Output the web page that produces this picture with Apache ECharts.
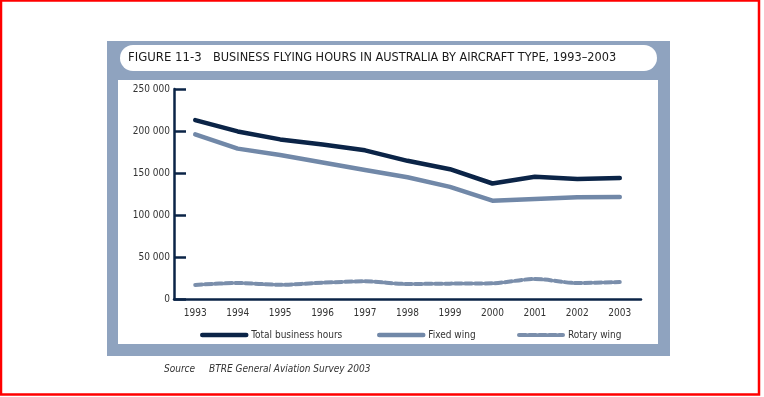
<!DOCTYPE html>
<html><head><meta charset="utf-8">
<script src="https://cdn.jsdelivr.net/npm/echarts@6/dist/echarts.min.js"></script>
<style>html,body{margin:0;padding:0;background:#fff}#c{width:764px;height:397px}</style>
</head><body><div id="c"></div>
<script>
const years = ['1993','1994','1995','1996','1997','1998','1999','2000','2001','2002','2003'];
const totalHours = [213000,199500,190000,184000,177000,164500,154500,137500,145500,143000,144000];
const fixedWing  = [196000,179000,171500,162500,153500,145000,133500,117000,119000,121000,121500];
const rotaryWing = [16700,19000,17000,19400,21000,17900,18300,18700,23800,19000,20200];
const seriesNames = ['Total business hours','Fixed wing','Rotary wing'];
const figureLabel = 'FIGURE 11-3';
const figureTitle = 'BUSINESS FLYING HOURS IN AUSTRALIA BY AIRCRAFT TYPE, 1993\u20132003';
const sourceLabel = 'Source';
const sourceText = 'BTRE General Aviation Survey 2003';

const FONT = "'Liberation Sans Narrow','DejaVu Sans Condensed','Liberation Sans',sans-serif";
const NAVY = '#0b2447', SLATE = '#7188a8', ROT = '#7a8eab', PANEL = '#8fa3bf';

const fmt = v => v === 0 ? '0' : String(v).replace(/\B(?=(\d{3})+(?!\d))/g, ' ');

const legendBase = {
  padding: 0, itemWidth: 44, itemHeight: 8, itemGap: 0, icon: 'inherit',
  itemStyle: {opacity: 0},
  textStyle: {fontSize: 10, color: '#333', fontFamily: FONT}
};

const chart = echarts.init(document.getElementById('c'), null, {renderer: 'canvas'});
chart.setOption({
  animation: false,
  backgroundColor: '#fff',
  graphic: [
    {type: 'rect', z: -10, shape: {x: 1, y: 0.5, width: 758, height: 394}, style: {fill: 'none', stroke: '#ff0000', lineWidth: 2.5}},
    {type: 'rect', z: -10, shape: {x: 107, y: 41, width: 563, height: 315}, style: {fill: PANEL}},
    {type: 'rect', z: -9, shape: {x: 120, y: 45, width: 537, height: 26, r: 13}, style: {fill: '#fff'}},
    {type: 'rect', z: -9, shape: {x: 118, y: 80, width: 540, height: 264}, style: {fill: '#fff'}},
    {type: 'text', z: 5, x: 128, y: 51, style: {text: figureLabel, font: '13px ' + FONT, fill: '#1a1a1a'}},
    {type: 'text', z: 5, x: 213, y: 51, scaleX: 0.97, style: {text: figureTitle, font: '13px ' + FONT, fill: '#1a1a1a'}},
    {type: 'text', z: 5, x: 164, y: 364, style: {text: sourceLabel, font: 'italic 10px ' + FONT, fill: '#333'}},
    {type: 'text', z: 5, x: 209, y: 364, style: {text: sourceText, font: 'italic 10px ' + FONT, fill: '#333'}}
  ],
  grid: {left: 174, right: 123, top: 89, bottom: 98, containLabel: false},
  xAxis: {
    type: 'category', data: years, boundaryGap: true,
    axisLine: {lineStyle: {color: NAVY, width: 2.5}},
    axisTick: {alignWithLabel: true, length: 7, lineStyle: {color: NAVY, width: 2}},
    axisLabel: {margin: 9, fontSize: 10, color: '#333', fontFamily: FONT},
    splitLine: {show: false}
  },
  yAxis: {
    type: 'value', min: 0, max: 250000, interval: 50000,
    axisLine: {show: true, lineStyle: {color: NAVY, width: 2.5}},
    axisTick: {show: true, inside: true, length: 12, lineStyle: {color: NAVY, width: 2.5}},
    axisLabel: {margin: 4, fontSize: 10, color: '#333', fontFamily: FONT, formatter: fmt},
    splitLine: {show: false}
  },
  legend: [
    Object.assign({}, legendBase, {data: [seriesNames[0]], left: 200, top: 330, lineStyle: {width: 4.5, cap: 'round'}}),
    Object.assign({}, legendBase, {data: [seriesNames[1]], left: 377, top: 330, lineStyle: {width: 4.5, cap: 'round'}}),
    Object.assign({}, legendBase, {data: [seriesNames[2]], left: 517, top: 330, lineStyle: {width: 4, cap: 'round'}})
  ],
  series: [
    {name: seriesNames[0], type: 'line', data: totalHours, symbol: 'none', color: NAVY, z: 4,
     lineStyle: {color: NAVY, width: 4.5, join: 'round', cap: 'round'}},
    {name: seriesNames[1], type: 'line', data: fixedWing, symbol: 'none', color: SLATE, z: 3,
     lineStyle: {color: SLATE, width: 4.5, join: 'round', cap: 'round'}},
    {name: seriesNames[2], type: 'line', data: rotaryWing, symbol: 'none', color: ROT, smooth: 0.3, z: 3,
     lineStyle: {color: ROT, width: 4, type: [7, 3], cap: 'round', join: 'round'}}
  ]
});
</script></body></html>
